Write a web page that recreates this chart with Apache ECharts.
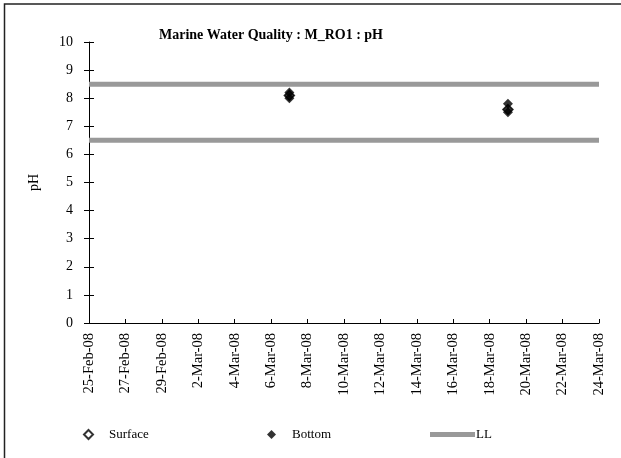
<!DOCTYPE html>
<html>
<head>
<meta charset="utf-8">
<script src="https://cdn.jsdelivr.net/npm/echarts@6/dist/echarts.min.js"></script>
<style>
html,body{margin:0;padding:0;background:#fff;}
#c{width:621px;height:458px;}
</style>
</head>
<body>
<div id="c"></div>
<script>
// ---- data ----
var title = 'Marine Water Quality : M_RO1 : pH';
var startDate = '25-Feb-08';
var endDate = '24-Mar-08';
var surfaceDates = ['7-Mar-08', '19-Mar-08'];
var surfaceValues = [8.1, 7.6];
var bottomDates = ['7-Mar-08', '7-Mar-08', '7-Mar-08', '19-Mar-08', '19-Mar-08', '19-Mar-08'];
var bottomValues = [8.0, 8.1, 8.2, 7.5, 7.6, 7.8];
var llDates = ['25-Feb-08', '24-Mar-08'];
var llUpper = [8.5, 8.5];
var llLower = [6.5, 6.5];

var MON = ['Jan','Feb','Mar','Apr','May','Jun','Jul','Aug','Sep','Oct','Nov','Dec'];
function toMs(s){var p=s.split('-');return Date.UTC(2000+parseInt(p[2],10),MON.indexOf(p[1]),parseInt(p[0],10));}
var DAY = 86400000;
var base = toMs(startDate);
function toDay(s){return Math.round((toMs(s)-base)/DAY);}
function fmt(d){var t=new Date(base+d*DAY);var y=String(t.getUTCFullYear()%100);if(y.length<2)y='0'+y;return t.getUTCDate()+'-'+MON[t.getUTCMonth()]+'-'+y;}
function pairs(ds, vs){return ds.map(function(d,i){return [toDay(d), vs[i]];});}

var serif = '"Liberation Serif","Times New Roman",serif';
var chart = echarts.init(document.getElementById('c'), null, {renderer:'canvas'});
chart.setOption({
  animation:false,
  backgroundColor:'#fff',
  title:{text:title,left:266,textAlign:'center',top:23,textStyle:{fontFamily:serif,fontSize:14,fontWeight:'bold',color:'#000'}},
  grid:{left:89,right:22,top:42,bottom:135},
  graphic:[{type:'rect',shape:{x:4.5,y:4,width:700,height:600},style:{fill:'none',stroke:'#222',lineWidth:1.5},silent:true,z:100}],
  xAxis:{type:'value',min:0,max:toDay(endDate),interval:2,
    axisLine:{lineStyle:{color:'#000',width:1}},
    axisTick:{inside:true,length:4,lineStyle:{color:'#000'}},
    splitLine:{show:false},
    axisLabel:{rotate:90,margin:10,fontFamily:serif,fontSize:14.5,color:'#000',formatter:function(v){return fmt(v);}}},
  yAxis:[{type:'value',min:0,max:10,interval:1,name:'pH',nameLocation:'middle',nameGap:48,
    nameTextStyle:{fontFamily:serif,fontSize:14,color:'#000'},
    axisLine:{show:true,lineStyle:{color:'#000',width:1}},
    axisTick:{show:true,length:5,lineStyle:{color:'#000'}},
    splitLine:{show:false},
    axisLabel:{margin:16,fontFamily:serif,fontSize:14,color:'#000'}},
   {type:'value',min:0,max:10,interval:1,position:'left',
    axisLine:{show:false},axisTick:{show:true,inside:true,length:5,lineStyle:{color:'#000'}},
    splitLine:{show:false},axisLabel:{show:false}}],
  legend:[
    {data:['Surface'],left:78,top:423,itemWidth:9,itemHeight:9,textStyle:{fontFamily:serif,fontSize:13,color:'#000',padding:[0,0,0,11]}},
    {data:['Bottom'],left:262,top:423,itemWidth:9,itemHeight:9,textStyle:{fontFamily:serif,fontSize:13,color:'#000',padding:[0,0,0,11]}},
    {data:[{name:'LL',icon:'rect'}],left:425,top:423,itemWidth:45,itemHeight:5,textStyle:{fontFamily:serif,fontSize:13,color:'#000',padding:[0,0,0,-4]}}
  ],
  series:[
    {name:'LL',type:'line',data:pairs(llDates,llUpper),symbol:'none',lineStyle:{color:'#999',width:5},itemStyle:{color:'#999'},z:1},
    {name:'LL',type:'line',data:pairs(llDates,llLower),symbol:'none',lineStyle:{color:'#999',width:5},itemStyle:{color:'#999'},z:1},
    {name:'Surface',type:'scatter',symbol:'diamond',symbolSize:10,data:pairs(surfaceDates,surfaceValues),itemStyle:{color:'#fff',borderColor:'#000',borderWidth:1.5},z:3},
    {name:'Bottom',type:'scatter',symbol:'diamond',symbolSize:10,data:pairs(bottomDates,bottomValues),itemStyle:{color:'#000'},z:4}
  ]
});
</script>
</body>
</html>
